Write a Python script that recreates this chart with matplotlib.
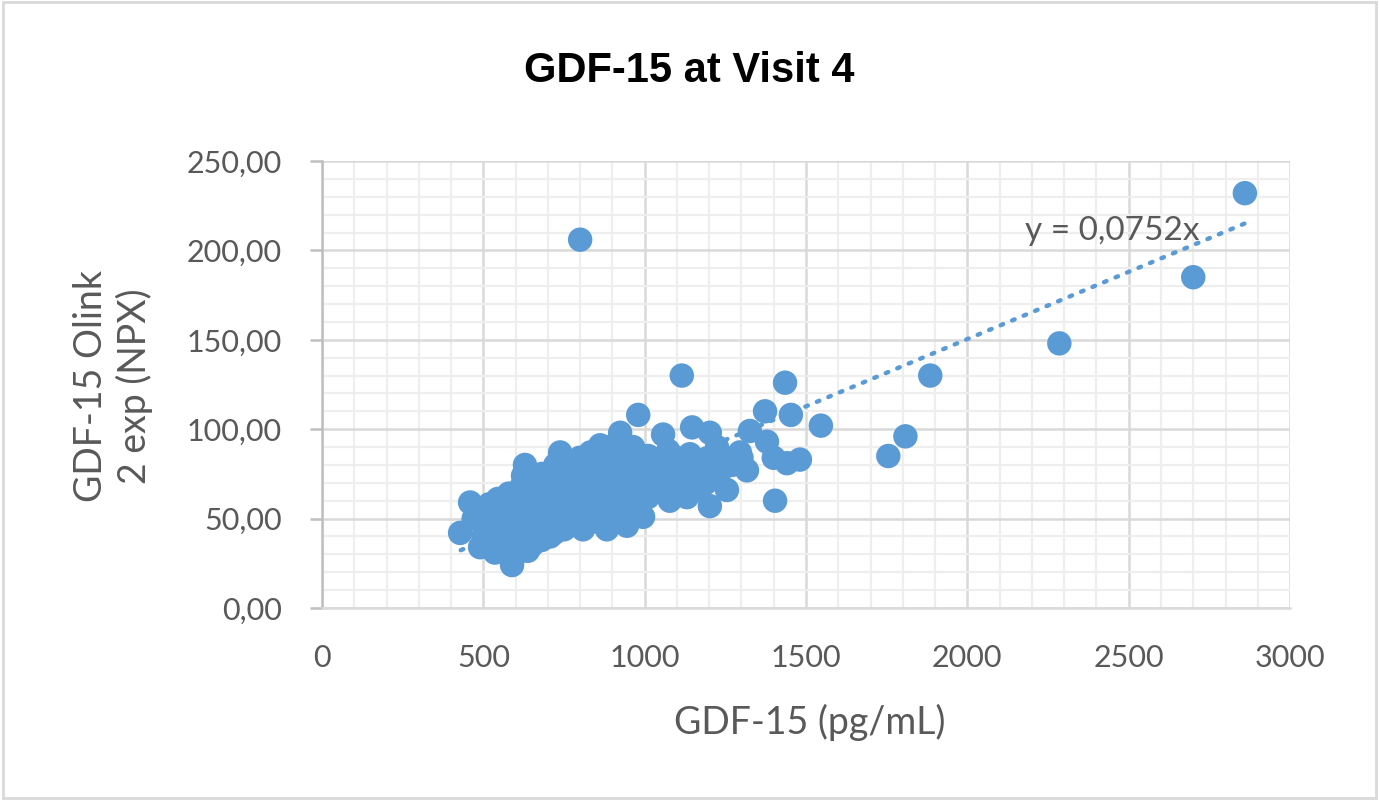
import matplotlib.pyplot as plt
import numpy as np
from matplotlib.patches import Rectangle
from matplotlib.ticker import MultipleLocator, FuncFormatter

# GDF-15 (pg/mL) vs GDF-15 Olink
x_outer = [800, 2860, 2700, 2285, 1885, 1808, 1755, 1546, 1481, 1453, 1435, 1373,
           1404, 1441, 1379, 1326, 1317, 1295, 1255, 1202, 1202, 1224, 1147, 1140,
           1171, 1131, 1115, 1078, 1057, 995, 980, 964, 945, 924, 883, 862, 809,
           738, 707, 629, 638, 589, 536, 545, 490, 428, 459, 1400]
y_outer = [206, 232, 185, 148, 130, 96, 85, 102, 83, 108, 126, 110,
           60, 81, 93, 99, 77, 87, 66, 57, 98, 90, 101, 86,
           73, 62, 130, 60, 97, 51, 108, 90, 46, 98, 44, 91, 44,
           87, 40, 80, 32, 24, 31, 61, 34, 42, 59, 84]

x_core = [470, 475, 500, 505, 498, 520, 523, 518, 550, 548, 553, 551,
          580, 578, 583, 581, 579, 600, 603, 598, 601, 604,
          620, 622, 618, 621, 619, 623, 650, 648, 653, 651, 649, 652,
          680, 678, 683, 681, 679, 682, 700, 703, 698, 701, 704,
          720, 722, 718, 721, 719, 723, 750, 748, 753, 751, 749, 752,
          780, 783, 778, 781, 779, 800, 803, 798, 801, 804, 799,
          830, 828, 833, 831, 829, 832, 860, 863, 858, 861, 859, 862,
          890, 888, 893, 891, 889, 892, 920, 923, 918, 921, 919, 922,
          950, 948, 953, 951, 949, 980, 983, 978, 981,
          1010, 1008, 1013, 1011, 1040, 1043, 1038, 1070, 1068, 1073,
          1100, 1103, 1098, 1130, 1128, 1160, 1163, 1190, 1188, 1230, 1228,
          1270, 1300]
y_core = [50, 55, 40, 48, 55, 45, 52, 58, 38, 45, 52, 57,
          35, 42, 50, 58, 64, 30, 40, 47, 55, 62,
          38, 45, 52, 60, 68, 74, 35, 42, 50, 57, 65, 72,
          38, 46, 53, 60, 68, 75, 45, 52, 60, 67, 74,
          42, 50, 58, 65, 72, 80, 44, 52, 60, 68, 75, 82,
          48, 56, 63, 70, 78, 46, 55, 62, 70, 77, 84,
          50, 58, 66, 73, 80, 87, 48, 56, 64, 72, 80, 86,
          50, 58, 66, 74, 82, 90, 52, 60, 68, 76, 84, 92,
          55, 63, 71, 79, 87, 58, 66, 74, 82,
          62, 70, 78, 85, 65, 75, 83, 70, 80, 88,
          66, 75, 84, 72, 80, 66, 78, 70, 82, 75, 84,
          80, 84]

slope = 0.0752
trend_x = [430, 2860]

blue = '#5B9BD5'
gray_txt = '#595959'

x = np.array(x_outer + x_core)
y = np.array(y_outer + y_core)

fig = plt.figure(figsize=(13.79, 8.0), dpi=100)
ax = fig.add_axes([0.2335, 0.24, 0.702, 0.55875])

ax.set_xlim(0, 3000)
ax.set_ylim(0, 250)
ax.xaxis.set_major_locator(MultipleLocator(500))
ax.xaxis.set_minor_locator(MultipleLocator(100))
ax.yaxis.set_major_locator(MultipleLocator(50))
ax.yaxis.set_minor_locator(MultipleLocator(10))
ax.yaxis.set_major_formatter(FuncFormatter(lambda v, p: f'{v:.2f}'.replace('.', ',')))

ax.grid(which='minor', color='#eeeeee', lw=1.6, zorder=0)
ax.grid(which='major', color='#d9d9d9', lw=1.8, zorder=0)
ax.set_axisbelow(True)

for s in ['top', 'right']:
    ax.spines[s].set_visible(False)
ax.spines['left'].set_color('#bfbfbf')
ax.spines['left'].set_linewidth(1.8)
ax.spines['bottom'].set_color('#d9d9d9')
ax.spines['bottom'].set_linewidth(1.8)

ax.tick_params(axis='y', which='major', length=9, width=1.8, color='#bfbfbf',
               labelsize=22, labelcolor=gray_txt, pad=20)
ax.tick_params(axis='x', which='major', length=0, labelsize=22, labelcolor=gray_txt, pad=26)
ax.tick_params(which='minor', length=0)
for t in ax.get_xticklabels() + ax.get_yticklabels():
    t.set_fontfamily('Lato')

tx = np.array(trend_x)
ax.plot(tx, slope * tx, color=blue, lw=3.2, linestyle=(0, (0.6, 2.2)),
        dash_capstyle='round', zorder=2)

ax.scatter(x, y, s=310, color=blue, edgecolors='none', zorder=3)

ax.text(2180, 211, 'y = 0,0752x', fontsize=24, color=gray_txt, family='Lato',
        ha='left', va='center', zorder=4)

fig.text(810 / 1379, 1 - 722 / 800, 'GDF-15 (pg/mL)', fontsize=27, color=gray_txt,
         family='Lato', ha='center', va='center')
fig.text(113 / 1379, 1 - 386 / 800, 'GDF-15 Olink\n2 exp (NPX)', fontsize=27,
         color=gray_txt, family='Lato', ha='center', va='center', rotation=90,
         multialignment='center', linespacing=1.25)

fig.text(689 / 1379, 1 - 82 / 800, 'GDF-15 at Visit 4', fontsize=30, fontweight='bold',
         family='Liberation Sans', ha='center', va='baseline', color='black')

fig.patches.append(Rectangle((0.002, 0.003), 0.996, 0.994, transform=fig.transFigure,
                             fill=False, edgecolor='#d9d9d9', lw=2))

fig.savefig('out.png', dpi=100)
